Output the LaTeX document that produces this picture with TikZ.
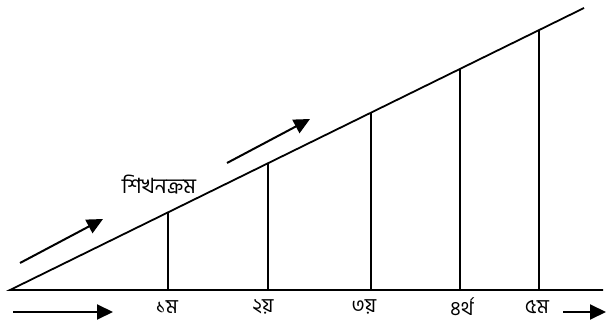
\documentclass[tikz,border=0pt]{standalone}
\usepackage{fontspec}
\newfontfamily\bengfont[Script=Bengali]{Hind Siliguri}
\usetikzlibrary{arrows.meta,calc,positioning}
\tikzset{
  line/.style={line width=1.8pt},
  pointer/.style={line width=2pt,-{Triangle[length=16pt,width=15pt]}},
  bengtext/.style={font=\bengfont\fontsize{20}{24}\selectfont,inner sep=0pt},
  stagelabel/.style={bengtext}
}
\begin{document}
\begin{tikzpicture}[x=1pt,y=-1pt]
\useasboundingbox (0,0) rectangle (606,326);
\coordinate (origin) at (10,290);
\coordinate (top) at (584,8);
\coordinate (baseend) at (603,290);
% axes
\draw[line] (baseend) -- (origin) -- (top);
% stages
\foreach \x/\name/\lx/\txt in {168/first/167/১ম,268/second/263/২য়,371/third/364/৩য়,460/fourth/462/৪র্থ,539/fifth/537/৫ম}{
  \coordinate (\name foot) at (\x,290);
  \draw[line] (\name foot) -- ($(origin)!{(\x-10)/574}!(top)$);
  \node[stagelabel] (\name) at (\lx,307) {\txt};
}
\node[bengtext,font=\bengfont\fontsize{21}{24}\selectfont] (learn) at (159,185) {শিখনক্রম};
% arrows
\coordinate (a1s) at (20,263);
\coordinate (a1e) at (103,219);
\draw[pointer] (a1s) -- (a1e);
\coordinate (a2s) at (227,163);
\coordinate (a2e) at (310,119);
\draw[pointer] (a2s) -- (a2e);
\coordinate (a3s) at (13,312);
\coordinate (a3e) at (113,312);
\draw[pointer] (a3s) -- (a3e);
\coordinate (a4s) at (563,312);
\coordinate (a4e) at (606,312);
\draw[pointer] (a4s) -- (a4e);
\end{tikzpicture}
\end{document}
